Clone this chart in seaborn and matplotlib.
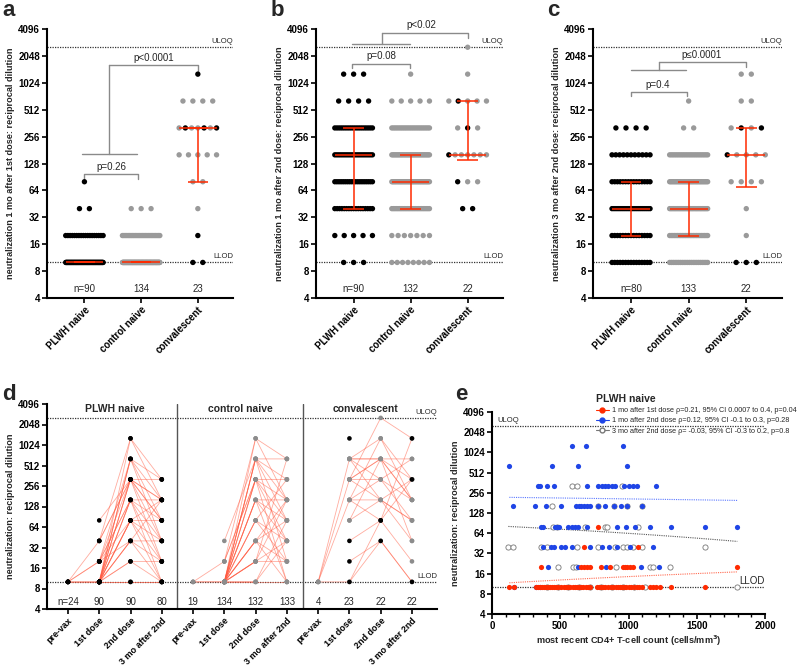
import numpy as np
import pandas as pd
import matplotlib
matplotlib.use("Agg")
import matplotlib.pyplot as plt
import seaborn as sns
from matplotlib.lines import Line2D
from matplotlib.ticker import FixedLocator, MultipleLocator, NullLocator

# ---------------- data ----------------
LEVELS = [10, 20, 40, 80, 160, 320, 640, 1280, 2560]
GROUPS = ["PLWH naive", "control naive", "convalescent"]
ULOQ, LLOD = 2560, 10

# panel a: 1 mo after 1st dose (counts per level)
a_plwh_counts = [69, 18, 2, 1, 0, 0, 0, 0, 0]
a_ctrl_counts = [104, 27, 3, 0, 0, 0, 0, 0, 0]
a_conv_values = [1280, 640, 640, 640, 640, 320, 320, 320, 320, 320, 320, 320,
                 160, 160, 160, 160, 160, 80, 80, 40, 20, 10, 10]
a_conv_hiv = [1, 0, 0, 0, 0, 0, 1, 0, 0, 1, 0, 1, 0, 0, 0, 0, 0, 0, 0, 0, 1, 1, 1]

# panel b: 1 mo after 2nd dose
b_plwh_counts = [3, 5, 17, 19, 21, 18, 4, 3, 0]
b_ctrl_counts = [8, 7, 25, 34, 30, 22, 5, 1, 0]
b_conv_values = [2560, 1280, 640, 640, 640, 640, 640, 320, 320, 320,
                 160, 160, 160, 160, 160, 160, 160, 80, 80, 80, 40, 40]
b_conv_hiv = [0, 0, 0, 1, 0, 0, 0, 0, 1, 0, 1, 0, 0, 0, 0, 0, 0, 1, 0, 0, 1, 1]

# panel c: 3 mo after 2nd dose
c_plwh_counts = [15, 15, 20, 15, 11, 4, 0, 0, 0]
c_ctrl_counts = [22, 25, 30, 30, 23, 2, 1, 0, 0]
c_conv_values = [1280, 1280, 640, 640, 320, 320, 320, 320, 160, 160, 160, 160, 160,
                 80, 80, 80, 80, 40, 20, 10, 10, 10]
c_conv_hiv = [0, 0, 0, 0, 0, 1, 0, 1, 1, 0, 0, 0, 0, 0, 0, 0, 0, 0, 0, 1, 1, 1]

# panel d: paired trajectories [pre-vax, 1st dose, 2nd dose, 3 mo after 2nd]
nan = np.nan
TIMEPOINTS = ["pre-vax", "1st dose", "2nd dose", "3 mo after 2nd"]
d_n = [24, 90, 90, 80, 19, 134, 132, 133, 4, 23, 22, 22]
d_plwh = [
    [10, 10, 10, 10], [10, 20, 40, 20], [10, 40, 320, 160], [10, 10, 160, 80],
    [10, 10, 80, 40], [10, 20, 160, 40], [nan, 80, 320, 160], [nan, 40, 320, 80],
    [nan, 40, 1280, 320], [nan, 20, 640, 320], [nan, 20, 320, 80], [nan, 20, 160, 160],
    [nan, 10, 1280, 160], [nan, 10, 640, 160], [nan, 10, 640, 80], [nan, 10, 640, 40],
    [nan, 10, 320, 320], [nan, 10, 320, 40], [nan, 10, 320, 20], [nan, 10, 160, 20],
    [nan, 10, 160, 10], [nan, 10, 80, 80], [nan, 10, 80, 20], [nan, 10, 80, 10],
    [nan, 10, 40, 40], [nan, 10, 40, 10], [nan, 10, 20, 10], [nan, 10, 20, 20],
    [nan, 10, 10, 10], [nan, 20, 80, 160], [nan, 10, 40, 160],
]
d_ctrl = [
    [10, 10, 160, 80], [10, 20, 320, 160], [10, 10, 40, 20], [nan, 40, 640, 320],
    [nan, 20, 1280, 640], [nan, 20, 320, 40], [nan, 10, 1280, 160], [nan, 10, 640, 640],
    [nan, 10, 640, 160], [nan, 10, 640, 80], [nan, 10, 640, 20], [nan, 10, 320, 320],
    [nan, 10, 320, 80], [nan, 10, 320, 10], [nan, 10, 160, 160], [nan, 10, 160, 40],
    [nan, 10, 160, 10], [nan, 10, 80, 320], [nan, 10, 80, 40], [nan, 10, 80, 20],
    [nan, 10, 40, 160], [nan, 10, 40, 80], [nan, 10, 40, 10], [nan, 10, 20, 160],
    [nan, 10, 20, 40], [nan, 10, 20, 20], [nan, 10, 10, 80], [nan, 10, 10, 10],
    [nan, 10, 10, 40], [nan, 10, 20, 640],
]
d_conv = [
    [10, 640, 640, 320], [10, 320, 2560, 1280], [10, 160, 320, 160], [10, 10, 40, 10],
    [nan, 640, 320, 640], [nan, 640, 160, 80], [nan, 640, 1280, 320], [nan, 320, 640, 160],
    [nan, 320, 160, 40], [nan, 320, 640, 640], [nan, 160, 1280, 160], [nan, 160, 80, 20],
    [nan, 160, 160, 320], [nan, 80, 640, 160], [nan, 80, 160, 80], [nan, 640, 640, 40],
    [nan, 320, 320, 80], [nan, 1280, nan, nan], [nan, 40, 80, 320], [nan, 20, 40, 10],
    [nan, 10, 80, 1280],
]
d_conv_hiv = [0] * 17 + [1, 1, 1, 1]

# panel e: CD4 count vs titer, PLWH naive
e_red_x = [779, 676, 1067, 357, 650, 674, 693, 718, 799, 864, 962, 977, 989, 1008, 1030, 1797,
           127, 161, 320, 335, 350, 365, 380, 395, 410, 425, 440, 455, 470, 485, 505, 525,
           545, 560, 575, 590, 605, 620, 640, 655, 670, 690, 705, 718, 770, 785, 800, 815,
           830, 850, 870, 890, 905, 920, 935, 950, 965, 985, 1000, 1020, 1040, 1060, 1080,
           1100, 1160, 1180, 1200, 1230, 1310, 1560]
e_red_y = [80, 40, 40] + [20] * 13 + [10] * 54
e_blue_x = [588, 689, 962,
            127, 437, 628, 987,
            339, 352, 401, 456, 698, 779, 803, 828, 852, 877, 901, 967, 1006, 1035, 1060, 1199,
            156, 315, 396, 505, 615, 635, 654, 674, 693, 718, 774, 828, 896, 945, 987, 1101,
            357, 371, 462, 474, 491, 559, 584, 608, 632, 698, 913, 979, 1048, 1157, 1309, 1560, 1797,
            371, 430, 454, 505, 535, 584, 718, 803, 860, 913, 1011, 1177,
            408, 632, 835, 1089, 1226,
            161, 320, 350]
e_blue_y = ([1280] * 3 + [640] * 4 + [320] * 16 + [160] * 16 + [80] * 17 + [40] * 12
            + [20] * 5 + [10] * 3)
e_gray_x = [584, 625, 950,
            437, 774, 896, 987, 1101,
            449, 474, 681, 828, 840, 1067,
            120, 156, 357, 401, 625, 779, 901, 962, 987, 1035, 1096, 1560,
            486, 596, 615, 908, 1157, 1177, 1304,
            1797, 400, 480, 560, 640, 720, 800, 880, 960, 1040, 1120]
e_gray_y = [320] * 3 + [160] * 5 + [80] * 6 + [40] * 12 + [20] * 7 + [10] * 11
e_labels = ["1 mo after 1st dose \u03c1=0.21, 95% CI 0.0007 to 0.4, p=0.04",
            "1 mo after 2nd dose \u03c1=0.12, 95% CI -0.1 to 0.3, p=0.28",
            "3 mo after 2nd dose \u03c1= -0.03, 95% CI -0.3 to 0.2, p=0.8"]

# ---------------- style ----------------
sns.set_theme(style="ticks")
plt.rcParams["font.family"] = ["Liberation Sans", "DejaVu Sans"]
plt.rcParams.update({
    "axes.linewidth": 1.5, "axes.edgecolor": "black",
    "xtick.major.width": 1.2, "ytick.major.width": 1.2,
    "xtick.major.size": 3.5, "ytick.major.size": 3.5,
    "xtick.major.pad": 1.5, "ytick.major.pad": 1.5,
    "xtick.color": "black", "ytick.color": "black",
})
BLACK, GRAY, RED = "#000000", "#9a9a9a", "#ff2a00"
BRACKET = "#8a8a8a"
BLUE = "#1f45e6"

fig = plt.figure(figsize=(8, 6.67), dpi=100)


def px_axes(x0, y0, x1, y1):
    return fig.add_axes([x0 / 800, 1 - y1 / 667, (x1 - x0) / 800, (y1 - y0) / 667])


YT = [2 ** k for k in range(2, 13)]


def style_log_y(ax, label):
    ax.set_yscale("log", base=2)
    ax.set_ylim(4, 4096)
    ax.yaxis.set_major_locator(FixedLocator(YT))
    ax.yaxis.set_minor_locator(NullLocator())
    ax.set_yticklabels([str(v) for v in YT], fontsize=7, fontweight="bold")
    ax.set_ylabel(label, fontsize=6.6, fontweight="bold", labelpad=2)
    sns.despine(ax=ax)


def limit_lines(ax, uloq_x=1.0, uloq_ha="right", llod_fs=5.5):
    ax.axhline(ULOQ, color="#333333", ls=(0, (1, 1)), lw=0.9, zorder=1)
    ax.axhline(LLOD, color="#333333", ls=(0, (1, 1)), lw=0.9, zorder=1)
    ax.annotate("ULOQ", (uloq_x, ULOQ * 1.06), xycoords=("axes fraction", "data"),
                ha=uloq_ha, va="bottom", fontsize=5.5, annotation_clip=False)
    ax.annotate("LLOD", (1.0, LLOD * 1.06), xycoords=("axes fraction", "data"),
                ha="right", va="bottom", fontsize=llod_fs, annotation_clip=False)


def offsets(vals, hw=0.33, step=0.175):
    vals = np.asarray(vals)
    out = np.zeros(len(vals))
    for v in np.unique(vals):
        idx = np.where(vals == v)[0]
        k = len(idx)
        if k > 1:
            sp = min(step, 2 * hw / (k - 1))
            out[idx] = (np.arange(k) - (k - 1) / 2) * sp
    return out


def bracket(ax, segs, text, tx, ty):
    for xs, ys in segs:
        ax.plot(xs, ys, color=BRACKET, lw=1, clip_on=False, zorder=2)
    ax.text(tx, ty, text, ha="center", va="bottom", fontsize=7, clip_on=False)


def dot_panel(ax, plwh_counts, ctrl_counts, conv_vals, conv_hiv, ylabel):
    plwh = np.repeat(LEVELS, plwh_counts)
    ctrl = np.repeat(LEVELS, ctrl_counts)
    conv = np.asarray(conv_vals)
    sets = [(plwh, ["PLWH"] * len(plwh)), (ctrl, ["ctrl"] * len(ctrl)),
            (conv, ["PLWH" if h else "ctrl" for h in conv_hiv])]
    rows = []
    for gi, (vals, cols) in enumerate(sets):
        for v, o, c in zip(vals, offsets(vals), cols):
            rows.append(dict(x=gi + o, y=v, grp=c))
    df = pd.DataFrame(rows)
    sns.scatterplot(data=df, x="x", y="y", hue="grp", palette={"PLWH": BLACK, "ctrl": GRAY},
                    s=15, linewidth=0, legend=False, ax=ax, zorder=3)
    for gi, (vals, _) in enumerate(sets):
        q1, med, q3 = np.percentile(vals, [25, 50, 75], method="weibull")
        ax.hlines(med, gi - 0.33, gi + 0.33, color=RED, lw=1.1, zorder=5)
        ax.hlines([q1, q3], gi - 0.18, gi + 0.18, color=RED, lw=1.1, zorder=5)
        ax.vlines(gi, q1, q3, color=RED, lw=1.1, zorder=5)
        ax.text(gi, 5.1, (f"n={len(vals)}" if gi == 0 else str(len(vals))),
                ha="center", va="center", fontsize=7)
    style_log_y(ax, ylabel)
    limit_lines(ax)
    ax.set_xlim(-0.66, 2.62)
    ax.set_xticks([0, 1, 2])
    ax.set_xticklabels(GROUPS, rotation=45, ha="right", rotation_mode="anchor",
                       fontsize=7, fontweight="bold")
    ax.set_xlabel("")


# ---------------- panel a ----------------
ax_a = px_axes(47, 29, 233, 298)
dot_panel(ax_a, a_plwh_counts, a_ctrl_counts, a_conv_values, a_conv_hiv,
          "neutralization 1 mo after 1st dose: reciprocal dilution")
bracket(ax_a, [([0, 0, 0.95, 0.95], [85, 97, 97, 85])], "p=0.26", 0.47, 102)
bracket(ax_a, [([-0.04, 0.92], [162, 162]), ([0.44, 0.44], [162, 1600]),
               ([0.44, 2.0, 2.0], [1600, 1600, 1260])], "p<0.0001", 1.22, 1700)

# ---------------- panel b ----------------
ax_b = px_axes(316, 29, 503, 298)
dot_panel(ax_b, b_plwh_counts, b_ctrl_counts, b_conv_values, b_conv_hiv,
          "neutralization 1 mo after 2nd dose: reciprocal dilution")
bracket(ax_b, [([-0.02, -0.02, 0.98, 0.98], [1500, 1680, 1680, 1500])], "p=0.08", 0.48, 1780)
bracket(ax_b, [([-0.02, 0.98], [2800, 2800]), ([0.5, 0.5], [2800, 3720]),
               ([0.5, 2.0, 2.0], [3720, 3720, 3280])], "p<0.02", 1.19, 3950)

# ---------------- panel c ----------------
ax_c = px_axes(593, 29, 782, 298)
dot_panel(ax_c, c_plwh_counts, c_ctrl_counts, c_conv_values, c_conv_hiv,
          "neutralization 3 mo after 2nd dose: reciprocal dilution")
bracket(ax_c, [([0, 0, 0.98, 0.98], [724, 813, 813, 724])], "p=0.4", 0.46, 860)
bracket(ax_c, [([0, 0.96], [1410, 1410]), ([0.48, 0.48], [1410, 1760]),
               ([0.48, 2.0, 2.0], [1760, 1760, 1550])], "p\u22640.0001", 1.23, 1860)

# ---------------- panel d ----------------
ax_d = px_axes(47, 404, 437, 609)
LINE = "#ff5a40"
dot_rows = []
for gi, (trajs, hiv) in enumerate([(d_plwh, [1] * len(d_plwh)), (d_ctrl, [0] * len(d_ctrl)),
                                   (d_conv, d_conv_hiv)]):
    xs = np.arange(4) + 4 * gi
    for tr, h in zip(trajs, hiv):
        ax_d.plot(xs, tr, color=LINE, lw=0.6, alpha=0.5, zorder=2)
        for x, v in zip(xs, tr):
            if not np.isnan(v):
                dot_rows.append(dict(x=x, y=v, grp="PLWH" if h else "ctrl", order=h))
ddf = pd.DataFrame(dot_rows).sort_values("order", kind="stable")
sns.scatterplot(data=ddf, x="x", y="y", hue="grp", palette={"PLWH": BLACK, "ctrl": "#8c8c8c"},
                s=11, linewidth=0, legend=False, ax=ax_d, zorder=4)
style_log_y(ax_d, "neutralization: reciprocal dilution")
limit_lines(ax_d)
for xv in (3.5, 7.5):
    ax_d.axvline(xv, color="#555555", lw=1, zorder=1)
for gi, g in enumerate(GROUPS):
    ax_d.text(4 * gi + 1.5, 3500, g, ha="center", va="center", fontsize=7.5, fontweight="bold")
for i, n in enumerate(d_n):
    ax_d.text(i, 5.1, f"n={n}" if i == 0 else str(n), ha="center", va="center", fontsize=7)
ax_d.set_xlim(-0.67, 11.8)
ax_d.set_xticks(range(12))
ax_d.set_xticklabels(TIMEPOINTS * 3, rotation=45, ha="right", rotation_mode="anchor",
                     fontsize=6.5, fontweight="bold")
ax_d.set_xlabel("")

# ---------------- panel e ----------------
ax_e = px_axes(492, 412, 765, 614)
sns.scatterplot(x=e_gray_x, y=e_gray_y, s=14, facecolor="white", edgecolor="#777777",
                linewidth=0.6, ax=ax_e, zorder=3)
sns.scatterplot(x=e_blue_x, y=e_blue_y, s=14, color=BLUE, linewidth=0, ax=ax_e, zorder=4)
sns.scatterplot(x=e_red_x, y=e_red_y, s=14, color=RED, linewidth=0, ax=ax_e, zorder=5)
for xs, ys, c in [(e_gray_x, e_gray_y, "#555555"), (e_blue_x, e_blue_y, "#5a78ff"),
                  (e_red_x, e_red_y, "#ff6a50")]:
    sns.regplot(x=np.array(xs, float), y=np.array(ys, float), scatter=False, ci=None, ax=ax_e,
                line_kws=dict(color=c, lw=0.8, ls=(0, (1, 1)), zorder=2))
style_log_y(ax_e, "neutralization: reciprocal dilution")
limit_lines(ax_e, uloq_x=0.02, uloq_ha="left", llod_fs=7)
ax_e.set_xlim(0, 2000)
ax_e.xaxis.set_major_locator(MultipleLocator(500))
ax_e.xaxis.set_minor_locator(MultipleLocator(100))
ax_e.tick_params(axis="x", which="minor", length=2, width=1)
ax_e.set_xticklabels([str(int(v)) for v in ax_e.get_xticks()], fontsize=7, fontweight="bold")
ax_e.set_xlabel("most recent CD4+ T-cell count (cells/mm$^\\mathbf{3}$)", fontsize=6.6,
                fontweight="bold", labelpad=2)
handles = [Line2D([0], [0], color=RED, marker="o", ms=3.5, lw=0.8),
           Line2D([0], [0], color=BLUE, marker="o", ms=3.5, lw=0.8),
           Line2D([0], [0], color="#777777", marker="o", ms=3.5, mfc="white", mec="#777777", lw=0.8)]
leg = ax_e.legend(handles, e_labels, title="PLWH naive", loc="upper left",
                  bbox_to_anchor=(0.38, 1.09), frameon=False, fontsize=5.2,
                  title_fontproperties={"weight": "bold", "size": 7.5},
                  handlelength=1.8, handletextpad=0.5, borderpad=0, labelspacing=0.45,
                  alignment="left", borderaxespad=0)

# ---------------- panel letters ----------------
for lab, x, y in [("a", 2, 16), ("b", 271, 16), ("c", 547, 16), ("d", 2, 400), ("e", 455, 400)]:
    fig.text(x / 800, 1 - y / 667, lab, fontsize=16, fontweight="bold", va="baseline")

fig.savefig("out.png", dpi=100)
